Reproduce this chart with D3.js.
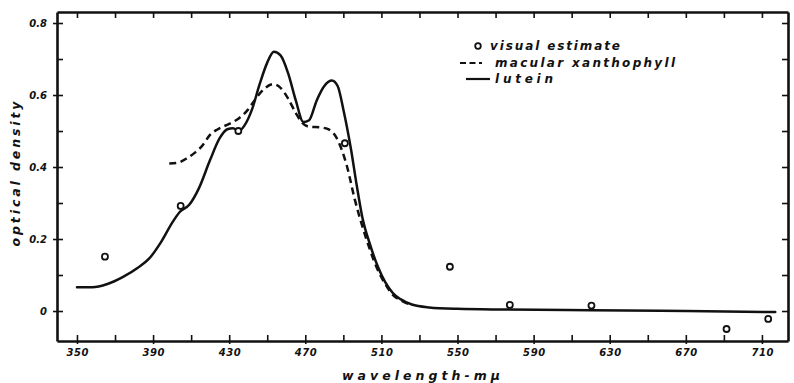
<!DOCTYPE html>
<html>
<head>
<meta charset="utf-8">
<script src="https://cdn.jsdelivr.net/npm/d3@7"></script>
<style>
  body { margin: 0; background: #fff; }
  svg text {
    font-family: 'DejaVu Sans', sans-serif;
    font-style: italic;
    font-weight: bold;
    fill: #111;
  }
</style>
</head>
<body>
<svg id="chart"></svg>
<script>
// values: wavelength in mμ, optical density
var luteinWave = [350, 358, 366, 374, 382, 388, 394, 400, 404, 409, 414, 420, 425, 429, 432, 435, 438, 442, 446, 450, 453.5, 457, 461, 465, 469, 472, 476, 480, 484, 487, 490, 494, 497, 500, 504, 508, 512, 516, 520, 526, 535, 550, 575, 620, 670, 717];
var luteinOD = [0.066, 0.066, 0.075, 0.094, 0.12, 0.146, 0.19, 0.245, 0.275, 0.295, 0.34, 0.42, 0.48, 0.505, 0.508, 0.5, 0.515, 0.56, 0.63, 0.69, 0.72, 0.71, 0.66, 0.585, 0.525, 0.53, 0.585, 0.625, 0.64, 0.625, 0.56, 0.45, 0.35, 0.26, 0.185, 0.125, 0.08, 0.05, 0.033, 0.018, 0.01, 0.006, 0.004, 0.002, 0.0, -0.003];

var xanthWave = [398.5, 403, 408, 412, 416, 420, 424, 430, 435, 440, 444, 448, 453, 457, 461, 465, 468, 472, 478, 482, 486, 489, 492, 496, 500, 504, 508, 512, 516, 520, 526];
var xanthOD = [0.41, 0.412, 0.425, 0.44, 0.46, 0.49, 0.505, 0.52, 0.535, 0.56, 0.59, 0.615, 0.63, 0.62, 0.59, 0.55, 0.525, 0.512, 0.51, 0.505, 0.485, 0.45, 0.4, 0.31, 0.235, 0.17, 0.115, 0.075, 0.045, 0.03, 0.016];

var visualWave = [364.7, 404.5, 434.8, 490.8, 546, 577.5, 620.4, 691.4, 713.3];
var visualOD = [0.151, 0.292, 0.5, 0.466, 0.123, 0.017, 0.015, -0.05, -0.022];

var xTickValues = [350, 390, 430, 470, 510, 550, 590, 630, 670, 710];
var xMinorValues = d3.range(350, 721, 20);
var yTickValues = [0, 0.2, 0.4, 0.6, 0.8];
var yTickLabels = ['0', '0.2', '0.4', '0.6', '0.8'];
var yMinorValues = [0, 0.1, 0.2, 0.3, 0.4, 0.5, 0.6, 0.7, 0.8];

var legendLabels = ['visual estimate', 'macular xanthophyll', 'lutein'];

var width = 794,
    height = 383;
var frame = {left: 57, right: 788, top: 12, bottom: 341};

var svg = d3.select('#chart')
    .attr('width', width)
    .attr('height', height);

var x = d3.scaleLinear()
    .domain([339.5, 723.7])
    .range([frame.left, frame.right]);
var y = d3.scaleLinear()
    .domain([-0.0833, 0.8306])
    .range([frame.bottom, frame.top]);

function styleAxis(g) {
    g.selectAll('.domain')
        .attr('stroke', '#111')
        .attr('stroke-width', 2.6);
    g.selectAll('.tick line')
        .attr('stroke', '#111')
        .attr('stroke-width', 1.6);
    g.selectAll('.tick text')
        .attr('font-size', '10px')
        .attr('fill', '#111');
}

// inward minor ticks on all four sides
svg.append('g')
    .attr('transform', 'translate(0,' + frame.bottom + ')')
    .call(d3.axisBottom(x).tickValues(xMinorValues).tickSize(-6).tickSizeOuter(0).tickFormat(''))
    .call(styleAxis);
svg.append('g')
    .attr('transform', 'translate(0,' + frame.top + ')')
    .call(d3.axisTop(x).tickValues(xMinorValues).tickSize(-6).tickSizeOuter(0).tickFormat(''))
    .call(styleAxis);
svg.append('g')
    .attr('transform', 'translate(' + frame.left + ',0)')
    .call(d3.axisLeft(y).tickValues(yMinorValues).tickSize(-6).tickSizeOuter(0).tickFormat(''))
    .call(styleAxis);
svg.append('g')
    .attr('transform', 'translate(' + frame.right + ',0)')
    .call(d3.axisRight(y).tickValues(yMinorValues).tickSize(-6).tickSizeOuter(0).tickFormat(''))
    .call(styleAxis);

// major ticks poke out a little and carry the labels
svg.append('g')
    .attr('transform', 'translate(0,' + frame.bottom + ')')
    .call(d3.axisBottom(x).tickValues(xTickValues).tickSize(3).tickSizeOuter(0).tickPadding(5))
    .call(styleAxis)
    .call(function(g) {
        g.select('.domain').remove();
        g.selectAll('.tick text')
            .attr('textLength', 22)
            .attr('lengthAdjust', 'spacing');
    });
svg.append('g')
    .attr('transform', 'translate(' + frame.left + ',0)')
    .call(d3.axisLeft(y).tickValues(yTickValues).tickSize(4).tickSizeOuter(0).tickPadding(6)
        .tickFormat(function(d, i) { return yTickLabels[i]; }))
    .call(styleAxis)
    .call(function(g) { g.select('.domain').remove(); });

var line = d3.line()
    .x(function(d) { return x(d[0]); })
    .y(function(d) { return y(d[1]); })
    .curve(d3.curveMonotoneX);

svg.append('path')
    .datum(d3.zip(luteinWave, luteinOD))
    .attr('d', line)
    .attr('fill', 'none')
    .attr('stroke', '#111')
    .attr('stroke-width', 2.5)
    .attr('stroke-linecap', 'round');

svg.append('path')
    .datum(d3.zip(xanthWave, xanthOD))
    .attr('d', line)
    .attr('fill', 'none')
    .attr('stroke', '#111')
    .attr('stroke-width', 2.5)
    .attr('stroke-dasharray', '7,4.5');

svg.append('g')
    .selectAll('circle')
    .data(d3.zip(visualWave, visualOD))
    .join('circle')
    .attr('cx', function(d) { return x(d[0]); })
    .attr('cy', function(d) { return y(d[1]); })
    .attr('r', 3)
    .attr('fill', '#fff')
    .attr('stroke', '#111')
    .attr('stroke-width', 1.8);

// legend
var legend = svg.append('g').attr('class', 'legend');
legend.append('circle')
    .attr('cx', 478).attr('cy', 46).attr('r', 2.8)
    .attr('fill', '#fff').attr('stroke', '#111').attr('stroke-width', 1.8);
legend.append('line')
    .attr('x1', 460).attr('x2', 482).attr('y1', 63).attr('y2', 63)
    .attr('stroke', '#111').attr('stroke-width', 2.2).attr('stroke-dasharray', '6,3.5');
legend.append('line')
    .attr('x1', 466).attr('x2', 490).attr('y1', 79).attr('y2', 79)
    .attr('stroke', '#111').attr('stroke-width', 2.2);

var legendSpec = [
    {x: 490, y: 50, len: 130},
    {x: 495, y: 67, len: 180},
    {x: 495, y: 83, len: 58}
];
legend.selectAll('text')
    .data(legendLabels)
    .join('text')
    .attr('x', function(d, i) { return legendSpec[i].x; })
    .attr('y', function(d, i) { return legendSpec[i].y; })
    .attr('font-size', '12px')
    .attr('textLength', function(d, i) { return legendSpec[i].len; })
    .attr('lengthAdjust', 'spacing')
    .text(function(d) { return d; });

// axis titles
svg.append('text')
    .attr('x', 421)
    .attr('y', 380)
    .attr('text-anchor', 'middle')
    .attr('font-size', '12.5px')
    .attr('textLength', 158)
    .attr('lengthAdjust', 'spacing')
    .text('wavelength-mμ');

svg.append('text')
    .attr('transform', 'translate(20,174) rotate(-90)')
    .attr('text-anchor', 'middle')
    .attr('font-size', '12.5px')
    .attr('textLength', 145)
    .attr('lengthAdjust', 'spacing')
    .text('optical density');
</script>
</body>
</html>
